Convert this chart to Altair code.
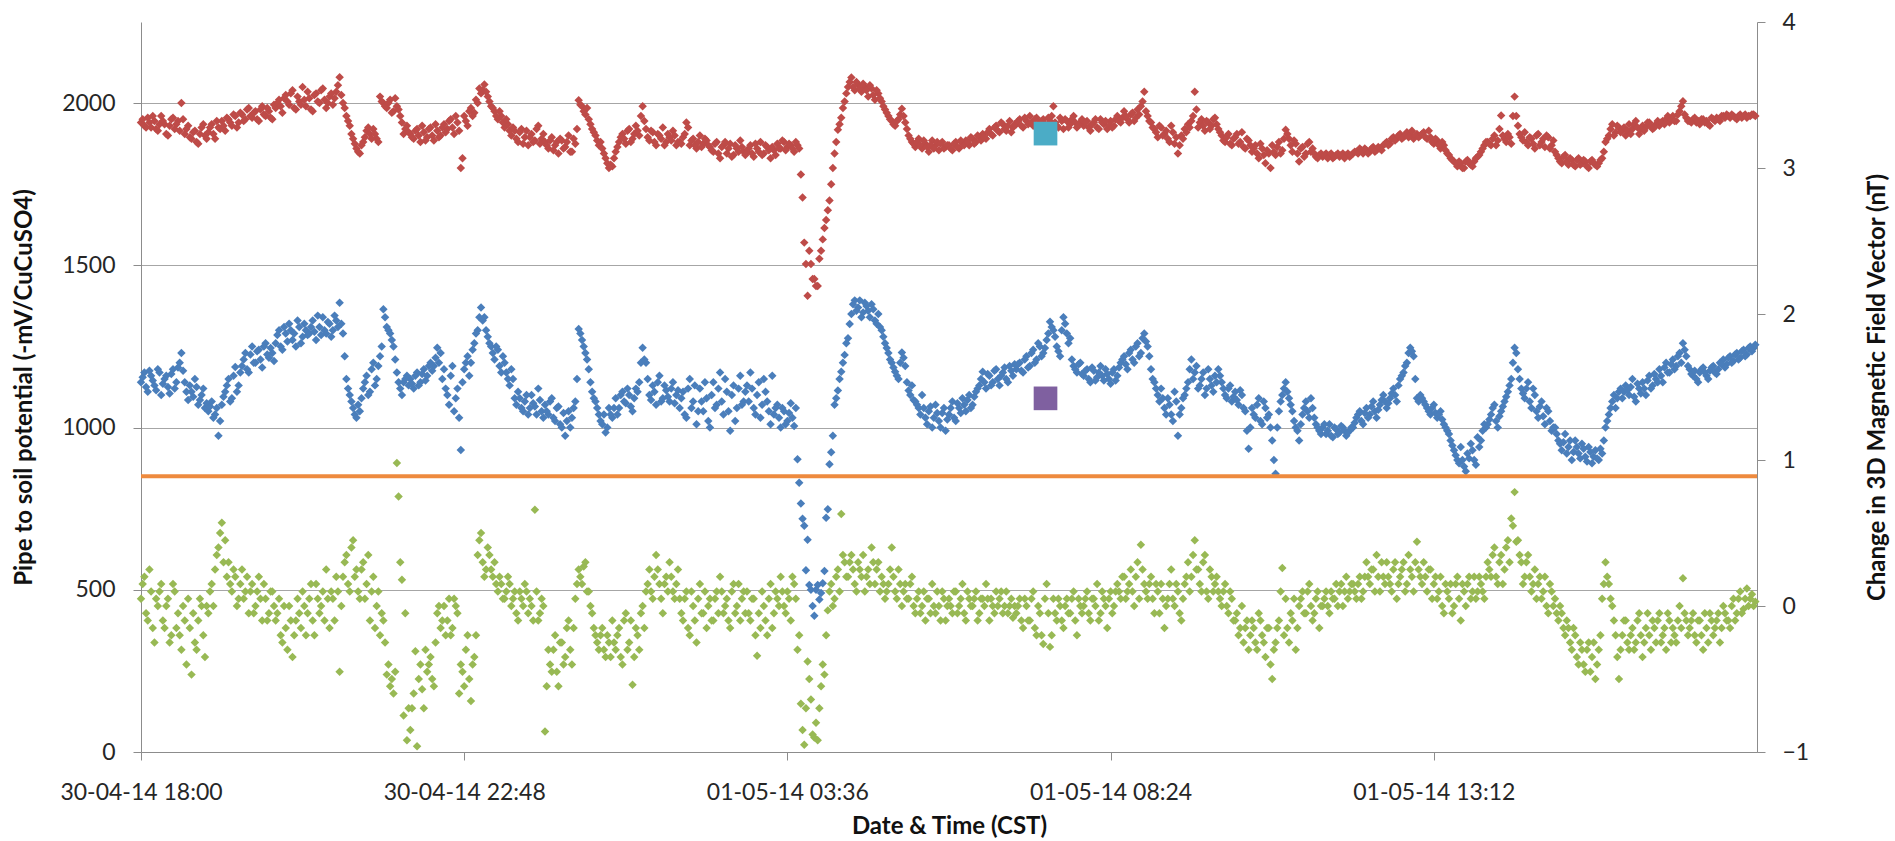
import altair as alt
import pandas as pd

# ---------------- data ----------------
START = "2014-04-30 18:00"
STEP_MIN = 3  # readings on a 3-minute grid; the *_MID lists are the readings half-way between

# Pipe A, pipe-to-soil potential (-mV/CuCuSO4), red
RED = [
    1940, 1930, 1955, 1925, 1945, 1915, 1960, 1935, 1900, 1950, 1920, 1945, 2000, 1905, 1930, 1890, 1915, 1875, 1925, 1900,
    1910, 1935, 1890, 1925, 1945, 1915, 1950, 1930, 1960, 1940, 1965, 1950, 1985, 1955, 1975, 1945, 1990, 1960, 1975, 1950,
    1985, 2010, 1970, 2025, 1995, 2040, 1980, 2005, 2050, 1990, 2015, 1975, 2030, 2000, 2045, 1985, 2020, 1995, 2035, 2080,
    2000, 1960, 1930, 1890, 1860, 1845, 1880, 1915, 1905, 1920, 1890, 2020, 2000, 1985, 2010, 1975, 1990, 1960, 1905, 1930,
    1905, 1890, 1920, 1880, 1910, 1895, 1925, 1885, 1915, 1900, 1935, 1920, 1950, 1905, 1940, 1800, 1960, 1930, 1985, 1970,
    2000, 2030, 2057, 2020, 1990, 1975, 1950, 1960, 1925, 1935, 1900, 1915, 1880, 1920, 1895, 1870, 1905, 1885, 1930, 1890,
    1880, 1860, 1895, 1870, 1845, 1885, 1865, 1900, 1850, 1875, 2009, 1990, 1965, 1950, 1920, 1900, 1870, 1860, 1830, 1800,
    1805, 1850, 1880, 1905, 1875, 1920, 1890, 1930, 1900, 1990, 1920, 1885, 1910, 1870, 1900, 1925, 1880, 1895, 1915, 1870,
    1880, 1895, 1940, 1870, 1890, 1860, 1900, 1875, 1885, 1865, 1850, 1880, 1830, 1870, 1845, 1875, 1840, 1860, 1885, 1850,
    1850, 1870, 1835, 1860, 1880, 1845, 1865, 1830, 1855, 1875, 1860, 1880, 1865, 1870, 1850, 1870, 1780, 1570, 1406, 1504,
    1458, 1436, 1545, 1615, 1670, 1750, 1845, 1918, 1955, 2005, 2050, 2079, 2040, 2057, 2035, 2050, 2020, 2045, 2010, 2030,
    2005, 1980, 1960, 1945, 1930, 1950, 1983, 1940, 1900, 1880, 1865, 1890, 1860, 1875, 1850, 1885, 1870, 1855, 1880, 1865,
    1870, 1855, 1880, 1860, 1875, 1885, 1870, 1890, 1880, 1895, 1905, 1890, 1920, 1900, 1930, 1910, 1935, 1915, 1945, 1925,
    1935, 1950, 1925, 1945, 1960, 1930, 1955, 1940, 1950, 1925, 1945, 1990, 1930, 1955, 1920, 1945, 1935, 1960, 1925, 1940,
    1930, 1945, 1915, 1940, 1925, 1950, 1935, 1920, 1945, 1930, 1960, 1940, 1975, 1950, 1965, 1945, 1980, 1990, 2035, 1960,
    1940, 1920, 1895, 1925, 1905, 1890, 1930, 1875, 1845, 1900, 1920, 1935, 1945, 2035, 1925, 1950, 1915, 1940, 1930, 1955,
    1920, 1900, 1880, 1905, 1870, 1895, 1875, 1910, 1860, 1885, 1850, 1870, 1830, 1860, 1815, 1845, 1870, 1840, 1880, 1855,
    1918, 1890, 1850, 1875, 1820, 1865, 1845, 1880, 1860, 1835, 1840, 1835, 1845, 1840, 1830, 1840, 1835, 1845, 1840, 1835,
    1845, 1850, 1860, 1845, 1855, 1850, 1865, 1855, 1860, 1870, 1880, 1875, 1895, 1890, 1905, 1895, 1910, 1900, 1890, 1905,
    1900, 1910, 1890, 1895, 1875, 1885, 1860, 1870, 1845, 1830, 1820, 1805, 1815, 1800, 1825, 1810, 1820, 1835, 1850, 1870,
    1880, 1870, 1900, 1885, 1962, 1890, 1905, 1875, 2020, 1930, 1895, 1910, 1870, 1890, 1860, 1905, 1880, 1865, 1895, 1870,
    1850, 1830, 1815, 1840, 1810, 1825, 1805, 1830, 1815, 1820, 1800, 1825, 1810, 1815, 1830, 1880, 1900, 1935, 1910, 1925,
    1915, 1900, 1935, 1920, 1945, 1905, 1930, 1925, 1940, 1920, 1935, 1930, 1945, 1950, 1940, 1960, 1945, 1975, 2006, 1955,
    1945, 1950, 1940, 1935, 1950, 1945, 1930, 1950, 1955, 1945, 1960, 1965, 1955, 1960, 1950, 1965, 1960, 1955, 1960, 1965,
]
RED_MID = [
    1950, 1925, 1940, 1960, 1920, 1935, 1945, 1905, 1930, 1955, 1935, 1915, 1950, 1920, 1895, 1910, 1880, 1905, 1935, 1890,
    1925, 1905, 1945, 1920, 1930, 1955, 1940, 1965, 1925, 1970, 1945, 1980, 1960, 1970, 1950, 1980, 1965, 1985, 1955, 1995,
    2000, 1990, 2015, 2005, 2030, 1985, 2020, 1995, 2010, 2035, 1980, 2025, 2005, 2040, 2010, 2000, 2030, 2015, 2055, 2025,
    1985, 1945, 1905, 1875, 1850, 1870, 1895, 1925, 1890, 1905, 1880, 2005, 1990, 2000, 1970, 2015, 1980, 1940, 1920, 1910,
    1895, 1915, 1900, 1930, 1885, 1920, 1900, 1935, 1895, 1925, 1910, 1945, 1925, 1960, 1915, 1830, 1945, 1975, 1960, 2010,
    2045, 2040, 2035, 2005, 1985, 1960, 1975, 1940, 1950, 1915, 1925, 1890, 1910, 1875, 1915, 1895, 1880, 1920, 1875, 1905,
    1870, 1885, 1855, 1880, 1890, 1860, 1880, 1850, 1890, 1920, 1995, 1975, 1985, 1935, 1910, 1885, 1880, 1845, 1815, 1810,
    1830, 1865, 1895, 1890, 1915, 1880, 1905, 1915, 1960, 1945, 1895, 1915, 1880, 1905, 1890, 1870, 1905, 1885, 1900, 1880,
    1875, 1905, 1925, 1885, 1870, 1880, 1865, 1890, 1870, 1855, 1875, 1845, 1865, 1880, 1860, 1835, 1870, 1850, 1865, 1840,
    1860, 1845, 1875, 1850, 1840, 1870, 1855, 1865, 1840, 1860, 1885, 1855, 1875, 1860, 1880, 1860, 1709, 1504, 1545, 1458,
    1436, 1520, 1580, 1640, 1700, 1800, 1880, 1935, 1985, 2030, 2065, 2050, 2065, 2045, 2060, 2040, 2055, 2025, 2040, 2015,
    1990, 1970, 1950, 1935, 1945, 1965, 1960, 1920, 1890, 1875, 1880, 1870, 1885, 1865, 1870, 1860, 1880, 1875, 1860, 1870,
    1860, 1875, 1865, 1885, 1870, 1880, 1895, 1875, 1900, 1885, 1895, 1910, 1905, 1925, 1915, 1940, 1920, 1930, 1910, 1935,
    1945, 1930, 1955, 1935, 1940, 1950, 1925, 1945, 1935, 1955, 1960, 1940, 1925, 1945, 1950, 1925, 1950, 1940, 1935, 1950,
    1940, 1925, 1935, 1950, 1920, 1940, 1945, 1930, 1925, 1950, 1945, 1955, 1960, 1940, 1970, 1955, 1965, 2005, 1975, 1945,
    1925, 1910, 1930, 1900, 1915, 1880, 1910, 1895, 1870, 1890, 1910, 1925, 1960, 1980, 1940, 1930, 1945, 1920, 1950, 1935,
    1910, 1885, 1895, 1875, 1890, 1905, 1880, 1865, 1890, 1870, 1860, 1845, 1875, 1840, 1855, 1800, 1850, 1865, 1845, 1890,
    1905, 1870, 1885, 1845, 1860, 1835, 1875, 1850, 1845, 1830, 1845, 1840, 1830, 1845, 1835, 1845, 1840, 1830, 1845, 1840,
    1850, 1845, 1855, 1860, 1845, 1860, 1850, 1865, 1855, 1875, 1870, 1890, 1885, 1900, 1890, 1900, 1895, 1915, 1900, 1895,
    1905, 1895, 1915, 1880, 1890, 1870, 1880, 1855, 1840, 1825, 1815, 1820, 1800, 1820, 1815, 1805, 1830, 1840, 1860, 1880,
    1875, 1890, 1870, 1920, 1900, 1880, 1895, 1960, 1960, 1905, 1885, 1880, 1895, 1875, 1900, 1870, 1890, 1900, 1860, 1885,
    1840, 1820, 1835, 1820, 1830, 1810, 1825, 1810, 1825, 1805, 1820, 1815, 1805, 1825, 1850, 1890, 1920, 1900, 1930, 1910,
    1925, 1915, 1905, 1935, 1925, 1920, 1915, 1940, 1930, 1925, 1945, 1940, 1935, 1960, 1950, 1945, 1965, 1990, 1965, 1945,
    1940, 1955, 1945, 1950, 1940, 1935, 1955, 1945, 1950, 1960, 1955, 1960, 1965, 1955, 1960, 1955, 1965, 1960, 1965, 1960,
]

# Pipe B, pipe-to-soil potential (-mV/CuCuSO4), blue
BLUE = [
    1140, 1170, 1110, 1160, 1130, 1180, 1100, 1150, 1125, 1165, 1120, 1185, 1230, 1140, 1085, 1110, 1150, 1070, 1100, 1060,
    1050, 1080, 1040, 975, 1070, 1110, 1150, 1090, 1187, 1130, 1190, 1230, 1170, 1250, 1200, 1240, 1185, 1260, 1215, 1230,
    1260, 1300, 1240, 1290, 1320, 1270, 1250, 1310, 1280, 1300, 1290, 1330, 1270, 1310, 1340, 1290, 1320, 1300, 1330, 1385,
    1290, 1150, 1100, 1060, 1030, 1050, 1120, 1160, 1110, 1200, 1150, 1220, 1365, 1310, 1290, 1250, 1170, 1120, 1140, 1160,
    1150, 1120, 1170, 1140, 1180, 1160, 1200, 1190, 1246, 1230, 1180, 1100, 1160, 1050, 1120, 931, 1180, 1220, 1200, 1260,
    1300, 1370, 1340, 1280, 1250, 1210, 1240, 1170, 1200, 1150, 1180, 1090, 1110, 1060, 1080, 1040, 1100, 1065, 1120, 1050,
    1070, 1040, 1090, 1020, 1065, 1000, 975, 1050, 1030, 1080, 1304, 1270, 1230, 1180, 1110, 1080, 1040, 1010, 985, 1060,
    1030, 1090, 1060, 1110, 1075, 1100, 1050, 1120, 1140, 1246, 1200, 1100, 1130, 1070, 1160, 1090, 1115, 1080, 1140, 1100,
    1060, 1110, 1030, 1150, 1080, 1010, 1120, 1050, 1090, 1000, 1140, 1070, 1170, 1040, 1110, 990, 1130, 1060, 1160, 1080,
    1130, 1170, 1060, 1100, 1030, 1150, 1080, 1010, 1040, 1070, 1000, 1050, 1020, 1075, 1005, 902, 766, 697, 654, 500,
    420, 515, 490, 558, 748, 924, 1070, 1114, 1172, 1224, 1275, 1350, 1392, 1370, 1340, 1385, 1360, 1380, 1330, 1350,
    1300, 1260, 1230, 1200, 1172, 1150, 1231, 1190, 1114, 1130, 1080, 1060, 1100, 1030, 1050, 1000, 1070, 1020, 1045, 990,
    1040, 1080, 1020, 1060, 1090, 1050, 1100, 1070, 1110, 1130, 1172, 1120, 1160, 1140, 1180, 1130, 1170, 1150, 1190, 1160,
    1180, 1200, 1170, 1220, 1190, 1240, 1210, 1250, 1230, 1270, 1326, 1300, 1250, 1220, 1340, 1290, 1275, 1190, 1170, 1200,
    1160, 1180, 1140, 1175, 1155, 1190, 1145, 1165, 1135, 1180, 1160, 1200, 1220, 1180, 1240, 1200, 1260, 1230, 1290, 1250,
    1180, 1140, 1100, 1120, 1060, 1090, 1040, 1110, 975, 1060, 1100, 1140, 1210, 1170, 1120, 1150, 1100, 1180, 1130, 1160,
    1180, 1140, 1100, 1120, 1080, 1110, 1070, 1100, 1050, 935, 1060, 1030, 1090, 1010, 1060, 1040, 960, 858, 1050, 1100,
    1140, 1090, 1050, 1000, 960, 1040, 1080, 1030, 1060, 1010, 990, 1000, 980, 1010, 970, 995, 985, 1000, 975, 990,
    1000, 1030, 1050, 1010, 1060, 1040, 1080, 1030, 1070, 1100, 1060, 1090, 1120, 1080, 1150, 1170, 1200, 1246, 1220, 1090,
    1100, 1080, 1060, 1040, 1070, 1030, 1050, 1010, 990, 960, 930, 900, 940, 880, 920, 950, 900, 970, 960, 1010,
    1010, 1040, 1070, 1000, 1050, 1080, 1110, 1150, 1246, 1180, 1120, 1090, 1140, 1060, 1100, 1030, 1080, 1010, 1050, 990,
    1000, 960, 930, 980, 940, 900, 960, 920, 950, 910, 940, 890, 930, 900, 920, 1000, 1040, 1080, 1060, 1110,
    1090, 1130, 1100, 1150, 1080, 1120, 1140, 1100, 1160, 1130, 1150, 1180, 1140, 1200, 1170, 1210, 1190, 1230, 1260, 1220,
    1180, 1160, 1150, 1170, 1185, 1160, 1175, 1190, 1165, 1200, 1210, 1195, 1220, 1205, 1230, 1215, 1240, 1225, 1250, 1245,
]
BLUE_MID = [
    1155, 1125, 1175, 1145, 1115, 1170, 1135, 1160, 1105, 1180, 1140, 1200, 1175, 1110, 1130, 1095, 1125, 1085, 1120, 1075,
    1065, 1030, 1060, 1020, 1095, 1130, 1080, 1160, 1110, 1170, 1210, 1180, 1225, 1200, 1235, 1210, 1250, 1225, 1245, 1205,
    1285, 1250, 1310, 1265, 1300, 1290, 1330, 1260, 1320, 1285, 1310, 1295, 1345, 1285, 1300, 1325, 1280, 1345, 1310, 1320,
    1220, 1120, 1080, 1040, 1070, 1090, 1140, 1100, 1180, 1130, 1190, 1250, 1340, 1300, 1270, 1210, 1140, 1100, 1150, 1130,
    1135, 1160, 1130, 1165, 1145, 1190, 1175, 1215, 1200, 1150, 1120, 1070, 1190, 1090, 1030, 1140, 1200, 1160, 1240, 1290,
    1340, 1330, 1300, 1260, 1230, 1250, 1190, 1220, 1170, 1130, 1150, 1070, 1090, 1050, 1100, 1060, 1075, 1040, 1085, 1030,
    1050, 1080, 1030, 1060, 1010, 1045, 1020, 1000, 1060, 1150, 1290, 1250, 1210, 1140, 1090, 1060, 1020, 1040, 1000, 1040,
    1060, 1040, 1100, 1080, 1120, 1065, 1090, 1110, 1200, 1210, 1150, 1085, 1110, 1140, 1080, 1130, 1095, 1120, 1075, 1115,
    1090, 1040, 1120, 1060, 1130, 1050, 1080, 1140, 1020, 1100, 1060, 1120, 1080, 1150, 1050, 1100, 1020, 1120, 1070, 1110,
    1080, 1120, 1040, 1140, 1070, 1110, 1050, 1160, 1060, 1030, 1060, 1010, 1045, 1030, 1060, 830, 719, 560, 515, 450,
    500, 470, 520, 722, 887, 975, 1090, 1150, 1200, 1260, 1319, 1380, 1360, 1392, 1355, 1375, 1340, 1365, 1320, 1310,
    1280, 1245, 1210, 1185, 1160, 1200, 1215, 1140, 1100, 1085, 1070, 1040, 1060, 1010, 1065, 1030, 1045, 1000, 1060, 1025,
    1060, 1030, 1075, 1045, 1070, 1085, 1060, 1095, 1120, 1150, 1140, 1165, 1130, 1175, 1150, 1160, 1185, 1140, 1175, 1195,
    1195, 1175, 1210, 1185, 1230, 1200, 1260, 1220, 1245, 1290, 1310, 1280, 1235, 1300, 1320, 1260, 1210, 1180, 1195, 1165,
    1175, 1150, 1185, 1145, 1170, 1160, 1180, 1150, 1170, 1145, 1185, 1210, 1195, 1230, 1210, 1250, 1220, 1275, 1265, 1220,
    1150, 1120, 1080, 1090, 1040, 1070, 1020, 1080, 1040, 1090, 1120, 1180, 1150, 1190, 1130, 1170, 1120, 1150, 1110, 1140,
    1160, 1120, 1090, 1130, 1095, 1085, 1115, 1060, 990, 1000, 1040, 1070, 1020, 1080, 1030, 1000, 900, 1000, 1080, 1120,
    1110, 1070, 1020, 990, 1010, 1060, 1050, 1090, 1030, 1000, 980, 1010, 990, 975, 1000, 980, 1005, 990, 985, 1000,
    1015, 1040, 1020, 1045, 1030, 1065, 1050, 1055, 1085, 1080, 1075, 1105, 1100, 1130, 1160, 1190, 1230, 1235, 1150, 1080,
    1090, 1070, 1050, 1060, 1045, 1040, 1025, 1000, 980, 945, 915, 890, 900, 865, 905, 930, 885, 940, 990, 1000,
    1025, 1060, 1020, 1035, 1065, 1095, 1130, 1200, 1230, 1150, 1105, 1120, 1080, 1120, 1050, 1065, 1035, 1060, 1020, 1000,
    980, 950, 955, 920, 960, 925, 940, 905, 935, 895, 925, 910, 905, 935, 960, 1020, 1060, 1100, 1090, 1120,
    1110, 1115, 1125, 1095, 1135, 1105, 1120, 1145, 1120, 1165, 1140, 1160, 1185, 1170, 1195, 1180, 1220, 1200, 1240, 1190,
    1165, 1175, 1140, 1180, 1170, 1150, 1185, 1170, 1180, 1195, 1185, 1215, 1200, 1225, 1210, 1235, 1220, 1245, 1235, 1255,
]

# Change in 3D magnetic field vector (nT), green, secondary axis
GREEN = [
    0.05, 0.20, -0.10, 0.10, -0.25, 0.00, 0.15, -0.15, 0.05, -0.20, 0.10, -0.05, -0.30, -0.10, 0.05, -0.47, -0.25, -0.10, 0.00, -0.35,
    -0.05, 0.15, 0.25, 0.40, 0.57, 0.45, 0.30, 0.10, 0.20, 0.05, 0.25, 0.10, -0.05, 0.15, 0.00, 0.20, -0.10, 0.05, -0.05, 0.10,
    -0.10, 0.05, -0.25, -0.15, 0.00, -0.35, -0.10, -0.05, 0.10, -0.20, 0.05, -0.10, 0.15, -0.05, 0.10, 0.25, -0.15, 0.05, 0.20, -0.45,
    0.20, 0.35, 0.10, 0.45, 0.25, 0.05, 0.30, 0.15, -0.10, 0.20, 0.00, -0.20, -0.10, -0.47, -0.55, -0.60, 0.98, 0.30, -0.75, -0.92,
    -0.85, -0.60, -0.96, -0.40, -0.70, -0.45, -0.35, -0.55, -0.05, -0.15, 0.00, -0.10, -0.20, 0.05, -0.05, -0.40, -0.55, -0.20, -0.65, -0.35,
    0.35, 0.50, 0.20, 0.40, 0.25, 0.30, 0.10, 0.15, 0.05, 0.20, 0.00, 0.10, -0.10, 0.05, 0.15, -0.05, 0.00, 0.66, -0.10, 0.05,
    -0.86, -0.30, -0.45, -0.20, -0.55, -0.25, -0.35, -0.10, -0.40, 0.05, 0.25, 0.15, 0.30, 0.10, -0.05, -0.20, -0.30, -0.15, -0.35, -0.25,
    -0.10, -0.30, -0.15, -0.40, -0.05, -0.25, -0.54, -0.15, -0.30, 0.00, 0.10, 0.25, 0.05, 0.35, 0.15, -0.05, 0.20, 0.30, 0.10, 0.15,
    0.05, -0.10, 0.10, -0.20, 0.00, -0.25, 0.15, -0.05, -0.15, 0.05, -0.10, 0.10, 0.20, -0.05, 0.05, -0.15, 0.15, 0.00, -0.10, 0.10,
    0.10, -0.10, 0.05, -0.34, -0.15, 0.00, -0.20, 0.15, -0.05, 0.05, 0.20, 0.00, 0.10, -0.10, 0.15, -0.30, -0.67, -0.95, -0.38, -0.64,
    -0.90, -0.92, -0.55, -0.47, -0.03, 0.15, 0.05, 0.25, 0.63, 0.30, 0.20, 0.35, 0.15, 0.30, 0.20, 0.10, 0.25, 0.40, 0.15, 0.30,
    0.20, 0.05, 0.15, 0.40, 0.10, 0.25, 0.00, 0.15, 0.05, 0.20, -0.05, 0.10, 0.00, -0.10, 0.05, 0.15, -0.05, 0.00, 0.10, -0.10,
    0.05, -0.05, 0.10, 0.00, 0.15, -0.10, 0.05, 0.00, 0.10, -0.05, 0.05, 0.15, -0.10, 0.00, 0.10, 0.05, -0.05, 0.10, 0.00, -0.08,
    -0.05, 0.05, -0.15, 0.00, -0.10, 0.10, -0.20, -0.05, -0.26, 0.15, -0.28, 0.05, -0.10, 0.00, -0.15, 0.05, -0.05, 0.10, -0.20, 0.00,
    0.00, 0.10, -0.10, 0.05, 0.15, -0.05, 0.05, -0.15, 0.10, 0.00, 0.15, 0.05, 0.20, 0.10, 0.25, 0.00, 0.30, 0.42, 0.15, 0.05,
    0.20, -0.05, 0.10, 0.15, -0.15, 0.05, 0.25, 0.00, 0.10, -0.10, 0.15, 0.30, 0.20, 0.45, 0.25, 0.10, 0.35, 0.05, 0.20, 0.15,
    0.10, 0.00, 0.15, -0.05, 0.05, -0.10, -0.20, 0.00, -0.15, -0.30, -0.10, -0.25, -0.05, -0.20, -0.35, -0.15, -0.50, -0.25, -0.10, 0.26,
    0.05, -0.25, -0.10, -0.30, 0.00, 0.10, -0.05, 0.15, -0.10, 0.05, -0.15, 0.00, 0.10, -0.05, 0.05, 0.15, 0.10, 0.00, 0.20, 0.10,
    0.15, 0.05, 0.20, 0.10, 0.30, 0.15, 0.25, 0.35, 0.10, 0.20, 0.30, 0.15, 0.25, 0.05, 0.20, 0.30, 0.15, 0.25, 0.10, 0.44,
    0.20, 0.30, 0.10, 0.25, 0.15, 0.05, 0.20, -0.05, 0.10, 0.15, 0.00, 0.20, -0.10, 0.10, 0.15, 0.05, 0.20, 0.10, 0.15, 0.05,
    0.30, 0.20, 0.40, 0.15, 0.35, 0.25, 0.45, 0.60, 0.78, 0.45, 0.30, 0.20, 0.35, 0.10, 0.25, 0.15, 0.05, 0.20, -0.05, 0.10,
    0.05, -0.10, -0.05, -0.20, -0.15, -0.30, -0.20, -0.40, -0.30, -0.45, -0.25, -0.35, -0.50, -0.30, 0.05, 0.30, 0.15, 0.00, -0.20, -0.50,
    -0.20, -0.10, -0.30, -0.15, -0.25, -0.05, -0.35, -0.15, -0.20, -0.10, -0.25, -0.05, -0.20, -0.30, -0.10, -0.15, -0.25, 0.00, 0.19, -0.10,
    -0.15, -0.05, -0.25, -0.10, -0.30, -0.15, -0.05, -0.20, -0.10, -0.25, 0.00, -0.10, -0.15, 0.05, -0.05, 0.10, -0.02, 0.12, 0.05, 0.00,
]
GREEN_MID = [
    0.15, -0.05, 0.25, -0.15, 0.05, 0.10, -0.10, 0.00, -0.25, 0.15, -0.15, -0.20, 0.00, -0.40, -0.15, -0.05, -0.30, 0.05, -0.20, 0.00,
    0.10, 0.00, 0.35, 0.50, 0.30, 0.20, 0.15, 0.25, 0.00, 0.15, 0.05, 0.20, 0.10, -0.05, 0.10, 0.05, 0.15, -0.10, 0.10, 0.00,
    -0.05, -0.20, 0.00, -0.30, -0.10, -0.20, 0.05, -0.15, 0.00, -0.05, 0.15, -0.20, 0.05, 0.00, -0.10, 0.05, 0.10, -0.10, 0.10, 0.00,
    0.30, 0.15, 0.40, 0.20, 0.10, 0.25, 0.05, 0.35, 0.10, -0.15, 0.10, -0.05, -0.25, -0.40, -0.50, -0.45, 0.75, 0.18, -0.05, -0.70,
    -0.70, -0.31, -0.50, -0.57, -0.30, -0.40, -0.50, -0.25, 0.00, -0.10, -0.20, 0.05, -0.15, 0.00, -0.60, -0.45, -0.30, -0.50, -0.40, -0.20,
    0.45, 0.30, 0.25, 0.35, 0.20, 0.15, 0.20, 0.05, 0.10, 0.15, 0.05, -0.05, 0.10, 0.00, 0.10, 0.05, -0.10, 0.10, -0.05, 0.00,
    -0.55, -0.40, -0.30, -0.45, -0.25, -0.40, -0.15, -0.30, -0.15, 0.15, 0.20, 0.27, 0.10, 0.00, -0.15, -0.25, -0.20, -0.30, -0.20, -0.35,
    -0.25, -0.20, -0.35, -0.10, -0.30, -0.10, -0.35, -0.20, -0.05, -0.15, 0.15, 0.10, 0.20, 0.25, 0.05, 0.15, 0.10, 0.20, 0.05, 0.25,
    -0.05, 0.05, -0.15, 0.10, -0.10, 0.05, -0.05, 0.10, 0.00, -0.10, 0.05, -0.05, 0.10, 0.00, -0.10, 0.10, -0.05, 0.15, 0.05, -0.05,
    -0.05, 0.05, -0.20, -0.05, 0.10, -0.10, 0.05, -0.15, 0.10, 0.00, 0.10, -0.05, 0.05, 0.20, 0.05, -0.20, -0.85, -0.70, -0.50, -0.88,
    -0.80, -0.70, -0.40, -0.20, 0.10, 0.00, 0.20, 0.10, 0.35, 0.20, 0.30, 0.25, 0.10, 0.25, 0.35, 0.20, 0.15, 0.30, 0.25, 0.10,
    0.15, 0.10, 0.25, 0.20, 0.05, 0.15, 0.10, 0.05, 0.15, 0.00, 0.05, -0.05, 0.10, 0.05, -0.05, 0.00, 0.10, -0.10, 0.05, 0.00,
    0.00, 0.10, -0.05, 0.05, -0.05, 0.10, 0.00, 0.05, -0.10, 0.05, 0.00, 0.05, 0.05, -0.05, 0.00, 0.10, 0.00, -0.05, 0.05, 0.00,
    0.00, -0.10, 0.05, -0.10, 0.05, -0.15, 0.00, -0.20, 0.05, -0.05, -0.20, -0.05, 0.05, -0.10, 0.00, -0.05, 0.05, -0.10, 0.05, -0.05,
    0.05, -0.05, 0.05, 0.00, -0.10, 0.10, 0.00, 0.05, -0.05, 0.10, 0.10, 0.20, 0.05, 0.15, 0.10, 0.20, 0.05, 0.25, 0.10, 0.15,
    0.05, 0.15, -0.05, 0.05, 0.00, 0.15, 0.05, 0.15, -0.05, 0.05, 0.20, 0.10, 0.35, 0.25, 0.15, 0.30, 0.10, 0.25, 0.10, 0.20,
    0.05, 0.10, 0.00, 0.10, -0.10, -0.05, -0.15, -0.25, -0.10, -0.20, -0.15, -0.30, -0.10, -0.25, -0.15, -0.40, -0.30, -0.15, 0.10, -0.20,
    -0.15, -0.05, 0.05, -0.15, 0.05, -0.05, 0.10, 0.00, -0.05, 0.10, 0.00, 0.05, 0.00, 0.10, 0.05, 0.00, 0.15, 0.10, 0.05, 0.15,
    0.10, 0.15, 0.05, 0.20, 0.20, 0.25, 0.10, 0.20, 0.30, 0.15, 0.20, 0.10, 0.30, 0.15, 0.25, 0.10, 0.35, 0.20, 0.30, 0.25,
    0.15, 0.20, 0.25, 0.05, 0.20, 0.10, 0.00, 0.15, 0.05, -0.05, 0.15, 0.05, 0.15, 0.00, 0.20, 0.10, 0.05, 0.20, 0.10, 0.20,
    0.25, 0.35, 0.20, 0.30, 0.15, 0.40, 0.30, 0.55, 0.44, 0.35, 0.15, 0.30, 0.20, 0.15, 0.05, 0.20, 0.10, 0.00, 0.15, 0.00,
    -0.05, 0.00, -0.15, -0.10, -0.25, -0.15, -0.35, -0.25, -0.40, -0.30, -0.45, -0.25, -0.40, -0.20, 0.15, 0.20, 0.05, -0.10, -0.35, -0.30,
    -0.10, -0.25, -0.20, -0.30, -0.10, -0.20, -0.25, -0.05, -0.30, -0.15, -0.10, -0.25, -0.15, -0.05, -0.25, -0.20, -0.10, -0.15, -0.05, -0.20,
    -0.10, -0.20, -0.10, -0.20, -0.05, -0.25, -0.10, -0.15, -0.05, -0.15, -0.05, -0.10, 0.00, -0.10, 0.05, -0.05, 0.05, 0.00, 0.08, 0.03,
]

CRITERION_MV = 850                      # orange horizontal line
EVENT_TIME = "2014-05-01 07:26"         # the two square markers
EVENT_VALUES = [1906, 1090]

X_TICKS = ["2014-04-30 18:00", "2014-04-30 22:48", "2014-05-01 03:36",
           "2014-05-01 08:24", "2014-05-01 13:12"]
X_DOMAIN = ["2014-04-30 18:00", "2014-05-01 18:00"]
LEFT_TICKS = [0, 500, 1000, 1500, 2000]
RIGHT_TICKS = [-1, 0, 1, 2, 3, 4]

# ---------------- styling ----------------
C_RED, C_BLUE, C_GREEN = "#BE4B48", "#4A7EBB", "#98B954"
C_ORANGE, C_TEAL, C_PURPLE = "#EE8A3E", "#4BACC6", "#7F60A0"
FONT = "Lato"
GRID = "#A6A6A6"
AXC = "#8C8C8C"
TXT = "#262626"
MSIZE = 72

start = pd.Timestamp(START)


def tstr(i, half=False):
    sec = STEP_MIN * 60 * i + (STEP_MIN * 30 if half else 0)
    return (start + pd.Timedelta(seconds=sec)).strftime("%Y-%m-%dT%H:%M:%S")


def dt(s):
    t = pd.Timestamp(s)
    return alt.DateTime(year=t.year, month=t.month, date=t.day, hours=t.hour, minutes=t.minute)


rows = []
for col, grid_vals, mid_vals in ((C_RED, RED, RED_MID), (C_BLUE, BLUE, BLUE_MID)):
    for i, v in enumerate(grid_vals):
        rows.append({"t": tstr(i), "mv": v, "col": col})
    for i, v in enumerate(mid_vals):
        rows.append({"t": tstr(i, True), "mv": v, "col": col})
df_pipe = pd.DataFrame(rows)

mrows = [{"t": tstr(i), "nT": v} for i, v in enumerate(GREEN)]
mrows += [{"t": tstr(i, True), "nT": v} for i, v in enumerate(GREEN_MID)]
df_mag = pd.DataFrame(mrows)

df_rule = pd.DataFrame({"mv": [CRITERION_MV]})
df_evt = pd.DataFrame({"t": [pd.Timestamp(EVENT_TIME).strftime("%Y-%m-%dT%H:%M:%S")] * 2,
                       "mv": EVENT_VALUES, "col": [C_TEAL, C_PURPLE]})

x_scale = alt.Scale(domain=[dt(X_DOMAIN[0]), dt(X_DOMAIN[1])])
x_axis = alt.Axis(values=[dt(s) for s in X_TICKS], format="%d-%m-%y %H:%M",
                  labelFont=FONT, labelFontSize=23, labelColor=TXT, labelPadding=21,
                  labelOverlap=False, labelFlush=False,
                  tickColor=AXC, tickSize=8, domainColor=AXC, grid=False,
                  title="Date & Time (CST)", titleFont=FONT, titleFontSize=24,
                  titleFontWeight="bold", titleColor="#111111", titleY=74,
                  titleBaseline="middle")
X = alt.X("t:T", scale=x_scale, axis=x_axis)

left_scale = alt.Scale(domain=[0, 2250], nice=False, zero=False)
left_axis = alt.Axis(orient="left", values=LEFT_TICKS, format="d", grid=True, gridColor=GRID,
                     gridWidth=1, domainColor=AXC, tickColor=AXC, tickSize=8, labelPadding=18,
                     labelFont=FONT, labelFontSize=23, labelColor=TXT,
                     title="Pipe to soil potential (-mV/CuCuSO4)", titleFont=FONT,
                     titleFontSize=24, titleFontWeight="bold", titleColor="#111111",
                     titleAngle=270, titleX=-117, titleBaseline="middle")
Y_left = alt.Y("mv:Q", scale=left_scale, axis=left_axis)

right_scale = alt.Scale(domain=[-1, 4], nice=False, zero=False)
right_axis = alt.Axis(orient="right", values=RIGHT_TICKS, format="d", grid=False,
                      domainColor=AXC, tickColor=AXC, tickSize=8, labelPadding=17,
                      labelFont=FONT, labelFontSize=23, labelColor=TXT,
                      title="Change in 3D Magnetic Field Vector (nT)", titleFont=FONT,
                      titleFontSize=24, titleFontWeight="bold", titleColor="#111111",
                      titleAngle=270, titleX=120, titleBaseline="middle")

mag = alt.Chart(df_mag).mark_point(shape="diamond", filled=True, size=MSIZE, opacity=1,
                                   color=C_GREEN, strokeWidth=0).encode(
    x=X, y=alt.Y("nT:Q", scale=right_scale, axis=right_axis))

pipes = alt.Chart(df_pipe).mark_point(shape="diamond", filled=True, size=MSIZE, opacity=1,
                                      strokeWidth=0).encode(
    x=X, y=Y_left, color=alt.Color("col:N", scale=None))

rule = alt.Chart(df_rule).mark_rule(color=C_ORANGE, strokeWidth=4).encode(y=Y_left)

events = alt.Chart(df_evt).mark_square(size=560, filled=True, opacity=1, strokeWidth=0).encode(
    x=X, y=Y_left, color=alt.Color("col:N", scale=None))

left = alt.layer(pipes, rule, events)

chart = alt.layer(mag, left).resolve_scale(y="independent").properties(
    width=1616, height=730,
    autosize=alt.AutoSizeParams(type="none"),
    padding={"left": 141, "top": 22, "right": 138, "bottom": 89},
    background="white",
).configure_view(strokeWidth=0)

chart.save("out.html", embed_options={"renderer": "svg", "actions": False})
